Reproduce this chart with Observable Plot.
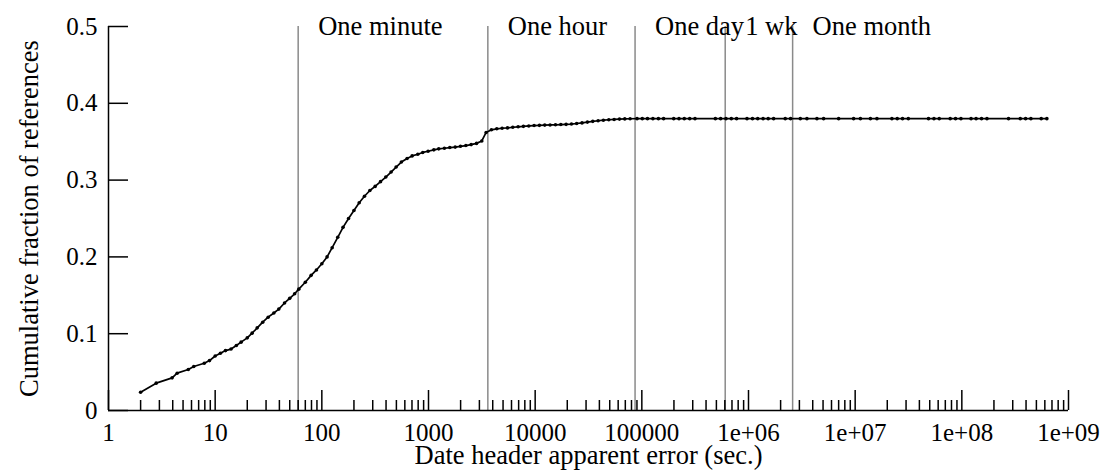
<!DOCTYPE html>
<html><head><meta charset="utf-8">
<script src="https://cdn.jsdelivr.net/npm/d3@7"></script>
<script src="https://cdn.jsdelivr.net/npm/@observablehq/plot@0.6"></script>
<style>html,body{margin:0;padding:0;background:#fff;} #chart svg{display:block}</style>
</head><body><div id="chart"></div>
<script>
const errorSeconds = [
  2, 2.8, 3.95, 4.4, 5.6, 6.3, 7.9, 8.85, 10, 11.2, 12.5, 14.1, 15.8, 17.5, 20, 22.2, 24.8, 27.9, 31.4, 35.5,
  39.5, 44.7, 50, 55.6, 60.8, 70, 79.4, 89, 100, 112, 125, 141, 158, 178, 200, 224, 251, 282, 316, 355,
  398, 446, 497, 557, 630, 702, 794, 883, 991, 1122, 1247, 1409, 1584, 1780, 1995, 2240, 2510, 2820, 3160, 3470,
  3890, 4365, 4900, 5500, 6170, 6920, 7760, 8710, 9770, 10960, 12300, 13800, 15500, 17400, 19500, 21900, 24500, 27500, 30900, 34700,
  38900, 43600, 49000, 55000, 61700, 69200, 77600,
  90200, 101000, 113000, 127000, 143000, 160000, 199000, 223000, 250000, 281000, 315000,
  489000, 548000, 615000, 690000, 773000, 968000, 1090000, 1220000, 1370000, 1530000, 1720000,
  2210000, 2480000, 3060000, 3530000, 4380000, 5060000, 7000000, 9670000, 11200000, 13900000, 16000000,
  22100000, 24800000, 27800000, 31500000, 48700000, 54800000, 61400000, 77800000, 87300000, 98100000,
  122000000, 136000000, 153000000, 172000000, 274000000, 353000000, 396000000, 444000000, 555000000, 627000000
];
const cumulativeFraction = [
  0.0238, 0.0356, 0.0425, 0.0486, 0.0534, 0.0573, 0.0616, 0.065, 0.071, 0.0746, 0.078, 0.080, 0.0846, 0.089, 0.0946, 0.1007, 0.1076, 0.115, 0.1215, 0.127,
  0.132, 0.140, 0.146, 0.152, 0.158, 0.167, 0.176, 0.183, 0.191, 0.2, 0.212, 0.2255, 0.2385, 0.25, 0.2605, 0.2705, 0.279, 0.2865, 0.2918, 0.298,
  0.304, 0.3105, 0.317, 0.3235, 0.3282, 0.3315, 0.3337, 0.336, 0.3376, 0.3394, 0.3407, 0.3415, 0.3424, 0.343, 0.344, 0.345, 0.3462, 0.3478, 0.351, 0.362,
  0.3655, 0.3668, 0.3675, 0.368, 0.3688, 0.3694, 0.370, 0.3705, 0.371, 0.3713, 0.3716, 0.3718, 0.372, 0.3723, 0.3726, 0.373, 0.3737, 0.3745, 0.3755, 0.3765,
  0.3773, 0.378, 0.3786, 0.379, 0.3794, 0.3797, 0.3799,
  0.38, 0.38, 0.38, 0.38, 0.38, 0.38, 0.38, 0.38, 0.38, 0.38, 0.38,
  0.38, 0.38, 0.38, 0.38, 0.38, 0.38, 0.38, 0.38, 0.38, 0.38, 0.38,
  0.38, 0.38, 0.38, 0.38, 0.38, 0.38, 0.38, 0.38, 0.38, 0.38, 0.38,
  0.38, 0.38, 0.38, 0.38, 0.38, 0.38, 0.38, 0.38, 0.38, 0.38,
  0.38, 0.38, 0.38, 0.38, 0.38, 0.38, 0.38, 0.38, 0.38, 0.38
];
const markerSeconds = [60, 3600, 86400, 604800, 2592000];
const markerLabels = ["One minute", "One hour", "One day", "1 wk", "One month"];
const yTicks = [0, 0.1, 0.2, 0.3, 0.4, 0.5];
const yTickLabels = ["0", "0.1", "0.2", "0.3", "0.4", "0.5"];
const xMajorTicks = [1, 10, 100, 1000, 10000, 100000, 1e6, 1e7, 1e8, 1e9];
const xTickLabels = ["1", "10", "100", "1000", "10000", "100000", "1e+06", "1e+07", "1e+08", "1e+09"];
const xTitle = "Date header apparent error (sec.)";
const yTitle = "Cumulative fraction of references";

const xMinorTicks = [];
for (let k = 0; k < 9; k++) for (let m = 2; m <= 9; m++) xMinorTicks.push(m * Math.pow(10, k));

const points = errorSeconds.map((x, i) => ({x, y: cumulativeFraction[i]}));
const markers = markerSeconds.map((x, i) => ({x, label: markerLabels[i]}));

const chart = Plot.plot({
  width: 1105, height: 471,
  marginLeft: 108, marginRight: 37, marginTop: 26, marginBottom: 61,
  style: {fontFamily: '"Liberation Serif", "Times New Roman", serif', fontSize: "26px", background: "#fff", color: "#000", overflow: "visible"},
  x: {type: "log", domain: [1, 1e9]},
  y: {domain: [0, 0.5]},
  marks: [
    Plot.ruleX(markers, {x: "x", y1: 0, y2: 0.5, stroke: "#8a8a8a", strokeWidth: 1.5}),
    Plot.text(markers, {x: "x", y: 0.5, text: "label", textAnchor: "start", dx: 20, lineAnchor: "middle", fill: "#000", fontSize: 26.5}),
    Plot.ruleY([0], {x1: 1, x2: 1e9, stroke: "#000", strokeWidth: 1.5}),
    Plot.ruleX([1], {y1: 0, y2: 0.5, stroke: "#000", strokeWidth: 1.5}),
    Plot.axisX({ticks: xMinorTicks, tickSize: -10, fill: "none", label: null, strokeWidth: 1.5}),
    Plot.axisX({ticks: xMajorTicks, tickSize: -20, fill: "none", label: null, strokeWidth: 1.5}),
    Plot.axisX({ticks: xMajorTicks, tickSize: 0, tickPadding: 13, label: null, fontSize: 25, tickFormat: d => xTickLabels[xMajorTicks.indexOf(d)]}),
    Plot.axisY({ticks: yTicks, tickSize: -20, fill: "none", label: null, strokeWidth: 1.5}),
    Plot.axisY({ticks: yTicks, tickSize: 0, tickPadding: 11, label: null, fontSize: 25, tickFormat: d => yTickLabels[yTicks.indexOf(d)]}),
    Plot.line(points, {x: "x", y: "y", stroke: "#000", strokeWidth: 1.7}),
    Plot.dot(points, {x: "x", y: "y", r: 1.8, fill: "#000"}),
    Plot.text([xTitle], {frameAnchor: "bottom", dy: 45, lineAnchor: "middle", textAnchor: "middle", text: d => d, fill: "#000", fontSize: 26.5}),
    Plot.text([yTitle], {frameAnchor: "left", dx: -79, rotate: -90, lineAnchor: "middle", textAnchor: "middle", text: d => d, fill: "#000", fontSize: 26.5})
  ]
});
document.getElementById("chart").appendChild(chart);
</script>
</body></html>
